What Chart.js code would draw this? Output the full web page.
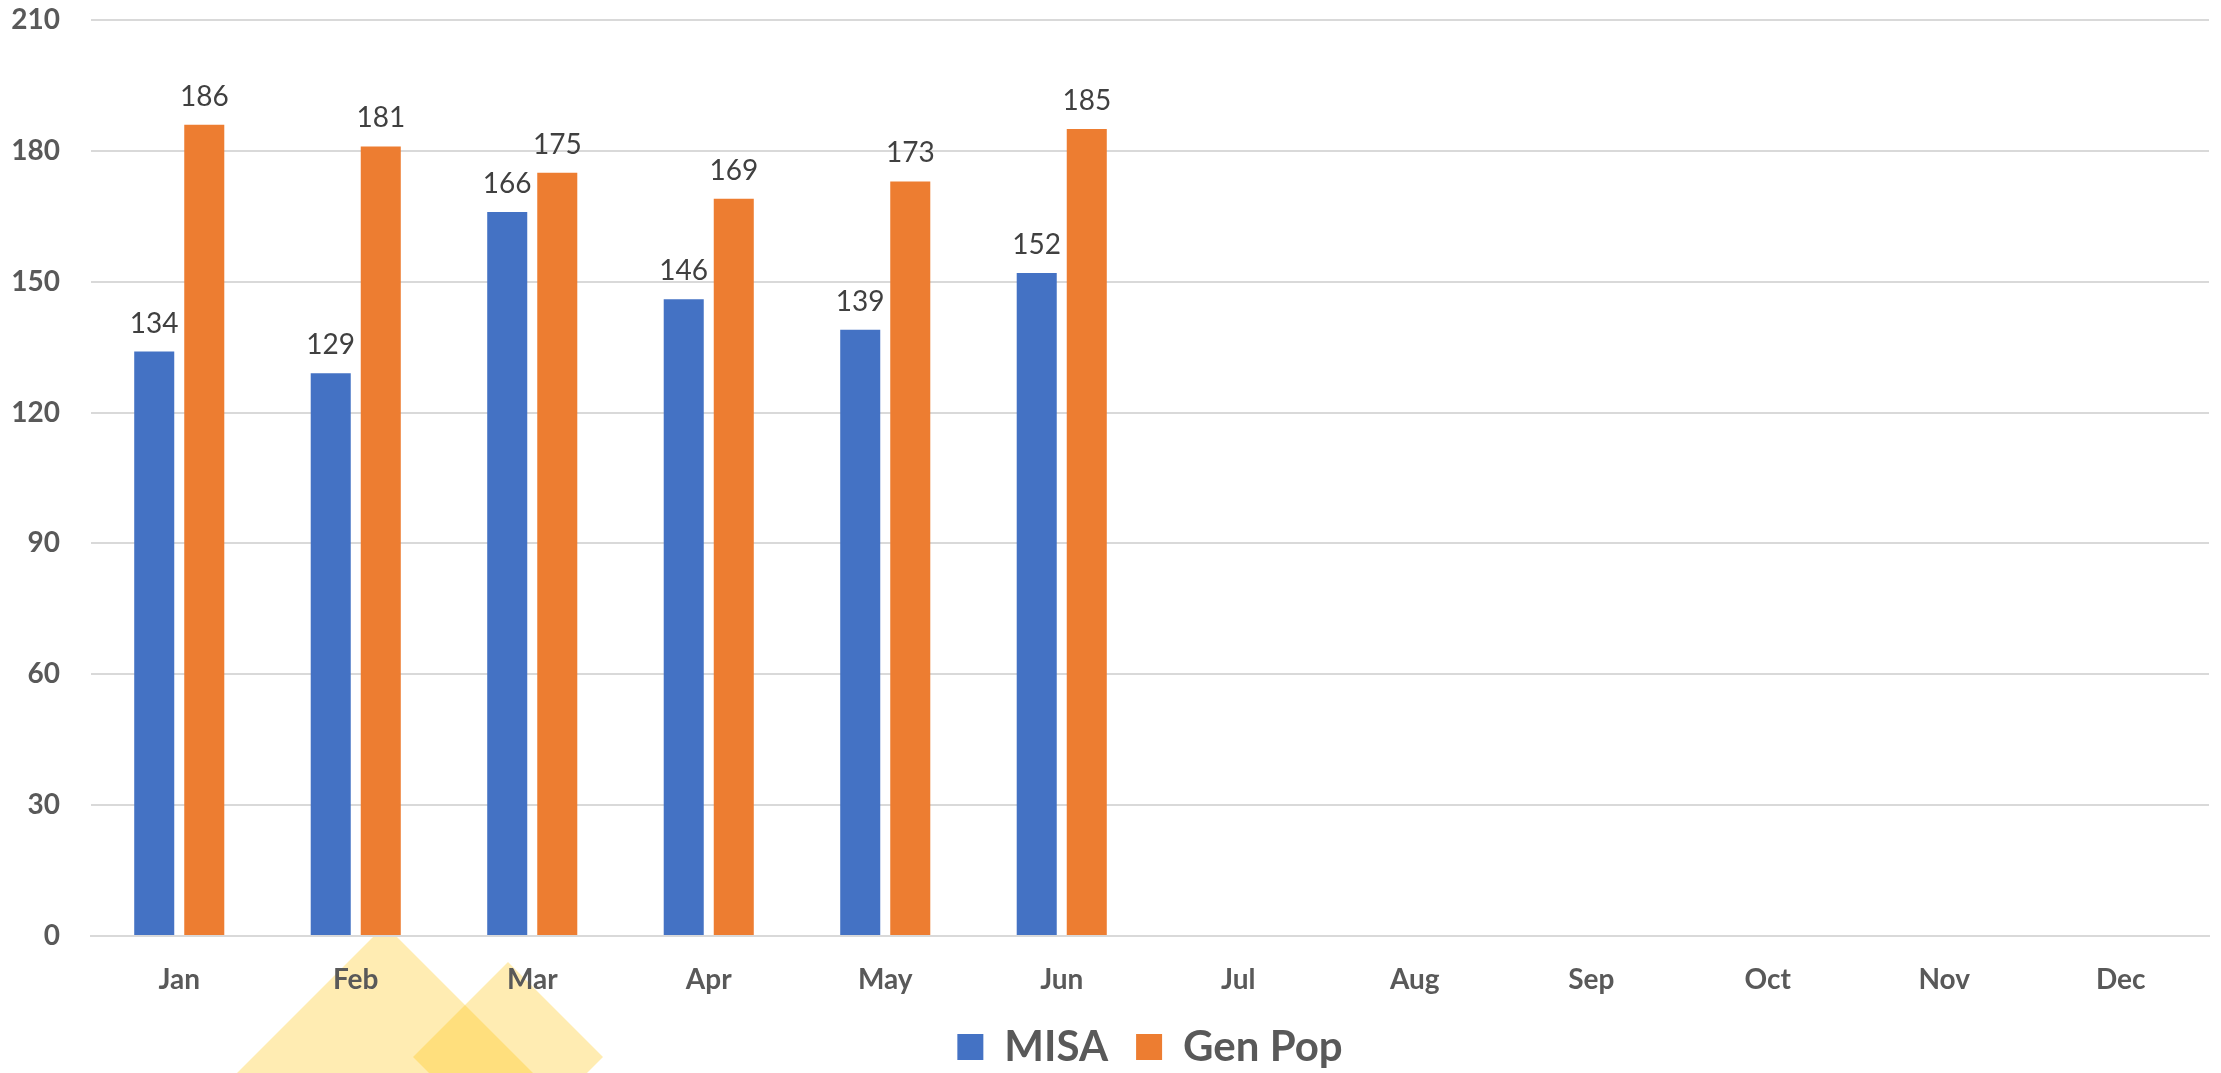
<!DOCTYPE html>
<html>
<head>
<meta charset="utf-8">
<script src="https://cdn.jsdelivr.net/npm/chart.js@4.4.1/dist/chart.umd.min.js"></script>
<style>
  html, body { margin: 0; padding: 0; background: #fff; }
  #wrap { width: 2221px; height: 1073px; }
</style>
</head>
<body>
<div id="wrap"><canvas id="graph01" width="2221" height="1073"></canvas></div>
<script>
const months = ['Jan', 'Feb', 'Mar', 'Apr', 'May', 'Jun', 'Jul', 'Aug', 'Sep', 'Oct', 'Nov', 'Dec']
const misa = [134, 129, 166, 146, 139, 152, null, null, null, null, null, null]
const genPop = [186, 181, 175, 169, 173, 185, null, null, null, null, null, null]
const yTicks = [0, 30, 60, 90, 120, 150, 180, 210]

Chart.defaults.font.family = 'Lato'

// yellow decorative diamonds under the axis
function diamond(ctx, cx, top, r) {
  ctx.beginPath()
  ctx.moveTo(cx, top)
  ctx.lineTo(cx + r, top + r)
  ctx.lineTo(cx, top + 2 * r)
  ctx.lineTo(cx - r, top + r)
  ctx.closePath()
  ctx.fill()
}

const shapes = {
  id: 'shapes',
  beforeDraw(chart) {
    const ctx = chart.ctx
    const a = chart.chartArea
    ctx.save()
    ctx.beginPath()
    ctx.rect(0, a.bottom, chart.width, chart.height - a.bottom)
    ctx.clip()
    ctx.fillStyle = 'rgba(255, 192, 0, 0.3)'
    diamond(ctx, 385, 925, 170)
    diamond(ctx, 508, 962, 95)
    ctx.restore()
  }
}

const valueLabels = {
  id: 'valueLabels',
  afterDatasetsDraw(chart) {
    const ctx = chart.ctx
    ctx.save()
    ctx.font = '28px Lato'
    ctx.fillStyle = '#404040'
    ctx.textAlign = 'center'
    ctx.textBaseline = 'alphabetic'
    chart.data.datasets.forEach((ds, i) => {
      chart.getDatasetMeta(i).data.forEach((bar, j) => {
        if (ds.data[j] == null) return
        ctx.fillText(ds.data[j], bar.x, bar.y - 19)
      })
    })
    ctx.restore()
  }
}

const graph01 = document.getElementById('graph01')

new Chart(graph01, {
  type: 'bar',
  data: {
    labels: months,
    datasets: [
      {
        label: 'MISA',
        data: misa,
        backgroundColor: '#4472C4',
        borderWidth: 0
      },
      {
        label: 'Gen Pop',
        data: genPop,
        backgroundColor: '#ED7D31',
        borderWidth: 0
      }
    ]
  },
  options: {
    responsive: false,
    animation: false,
    categoryPercentage: 0.567,
    barPercentage: 0.8,
    layout: {
      padding: { top: 20, right: 12, bottom: -5, left: 0 }
    },
    scales: {
      x: {
        grid: { display: false, drawTicks: false },
        border: { display: true, color: '#D9D9D9', width: 2 },
        ticks: {
          color: '#595959',
          font: { size: 28, weight: 'bold' },
          padding: 27,
          maxRotation: 0
        },
        afterFit: scale => { scale.height = 62 }
      },
      y: {
        min: yTicks[0],
        max: yTicks[yTicks.length - 1],
        border: { display: false },
        // invisible tick marks give the label gap without extra top padding
        grid: { color: '#D9D9D9', lineWidth: 2, drawTicks: true, tickLength: 31, tickColor: 'rgba(0,0,0,0)' },
        ticks: {
          stepSize: yTicks[1] - yTicks[0],
          color: '#595959',
          font: { size: 28, weight: 'bold' },
          padding: 0
        },
        afterFit: scale => { scale.width = 91 }
      }
    },
    plugins: {
      tooltip: { enabled: false },
      legend: {
        position: 'bottom',
        fullSize: false,
        labels: {
          boxWidth: 26,
          boxHeight: 26,
          padding: 28,
          color: '#595959',
          font: { size: 42, weight: 'bold' }
        }
      }
    }
  },
  plugins: [shapes, valueLabels]
})
</script>
</body>
</html>
